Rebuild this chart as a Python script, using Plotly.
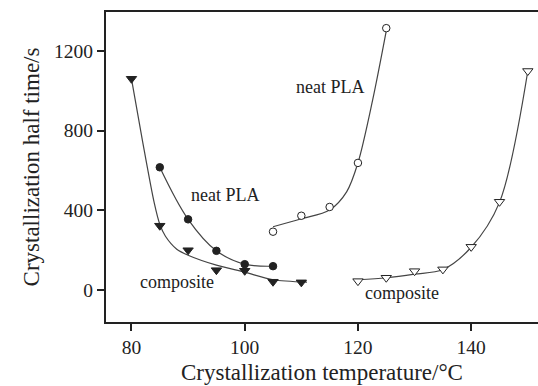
import plotly.graph_objects as go

# --- data ---
# composite, cold crystallization (filled down-triangles)
comp_cold_T = [80, 85, 90, 95, 100, 105, 110]
comp_cold_t = [1060, 323, 200, 100, 97, 42, 39]
comp_cold_fit_T = [80, 82, 84, 85, 86, 88, 90, 95, 100, 105, 111]
comp_cold_fit_t = [1060, 740, 440, 330, 270, 205, 175, 125, 90, 52, 40]

# neat PLA, cold crystallization (filled circles)
pla_cold_T = [85, 90, 95, 100, 105]
pla_cold_t = [616, 355, 197, 130, 120]

# neat PLA, melt crystallization (open circles)
pla_melt_T = [105, 110, 115, 120, 125]
pla_melt_t = [293, 373, 417, 638, 1314]
pla_melt_fit_T = [105, 110, 115, 118, 120, 122.6, 125]
pla_melt_fit_t = [318, 358, 402, 493, 638, 954, 1300]

# composite, melt crystallization (open down-triangles)
comp_melt_T = [120, 125, 130, 135, 140, 145, 150]
comp_melt_t = [45, 62, 95, 104, 217, 443, 1099]
comp_melt_fit_T = [120, 125, 130, 135, 140, 145, 150]
comp_melt_fit_t = [52, 62, 80, 103, 215, 440, 1099]

x_ticks = [80, 100, 120, 140]
y_ticks = [0, 400, 800, 1200]

FONT = "Liberation Serif, Times New Roman, serif"
LC = "#444444"

fig = go.Figure()

def fit_line(x, y, smooth=1.0):
    fig.add_trace(go.Scatter(x=x, y=y, mode="lines",
                             line=dict(color=LC, width=1.2, shape="spline", smoothing=smooth),
                             hoverinfo="skip", showlegend=False))

fit_line(comp_cold_fit_T, comp_cold_fit_t, 0.8)
fit_line(pla_cold_T, pla_cold_t, 1.0)
fit_line(pla_melt_fit_T, pla_melt_fit_t, 0.9)
fit_line(comp_melt_fit_T, comp_melt_fit_t, 0.9)

def pts(x, y, symbol, size, fill):
    fig.add_trace(go.Scatter(x=x, y=y, mode="markers",
                             marker=dict(symbol=symbol, size=size, color=fill,
                                         line=dict(color="#222", width=1.0)),
                             showlegend=False))

pts(comp_cold_T, comp_cold_t, "triangle-down", 9, "#222")
pts(pla_cold_T, pla_cold_t, "circle", 7.5, "#222")
pts(pla_melt_T, pla_melt_t, "circle", 7.5, "white")
pts(comp_melt_T, comp_melt_t, "triangle-down", 9, "white")

labels = [("neat PLA", 96.5, 477), ("composite", 88.0, 42),
          ("neat PLA", 115.1, 1018), ("composite", 127.7, -17)]
for txt, x, y in labels:
    fig.add_annotation(x=x, y=y, text=txt, showarrow=False, xanchor="center", yanchor="middle",
                       font=dict(family=FONT, size=18, color="#222"))

fig.update_layout(
    width=538, height=386,
    margin=dict(l=106, r=0, t=12, b=64),
    paper_bgcolor="white", plot_bgcolor="white",
    font=dict(family=FONT, color="#222"),
)
fig.update_xaxes(range=[75.5, 151.8], tickvals=x_ticks, ticks="outside", ticklen=7, tickwidth=1.5,
                 tickcolor="#222", showline=True, linecolor="#222", linewidth=2, mirror=True,
                 showgrid=False, zeroline=False, tickfont=dict(size=19.5),
                 title=dict(text="Crystallization temperature/°C", font=dict(size=23), standoff=6))
fig.update_yaxes(range=[-160, 1395], tickvals=y_ticks, ticks="outside", ticklen=7, tickwidth=1.5,
                 tickcolor="#222", showline=True, linecolor="#222", linewidth=2, mirror=False,
                 showgrid=False, zeroline=False, tickfont=dict(size=19.5),
                 title=dict(text="Crystallization half time/s", font=dict(size=23), standoff=8))

fig.write_html("out.html")
